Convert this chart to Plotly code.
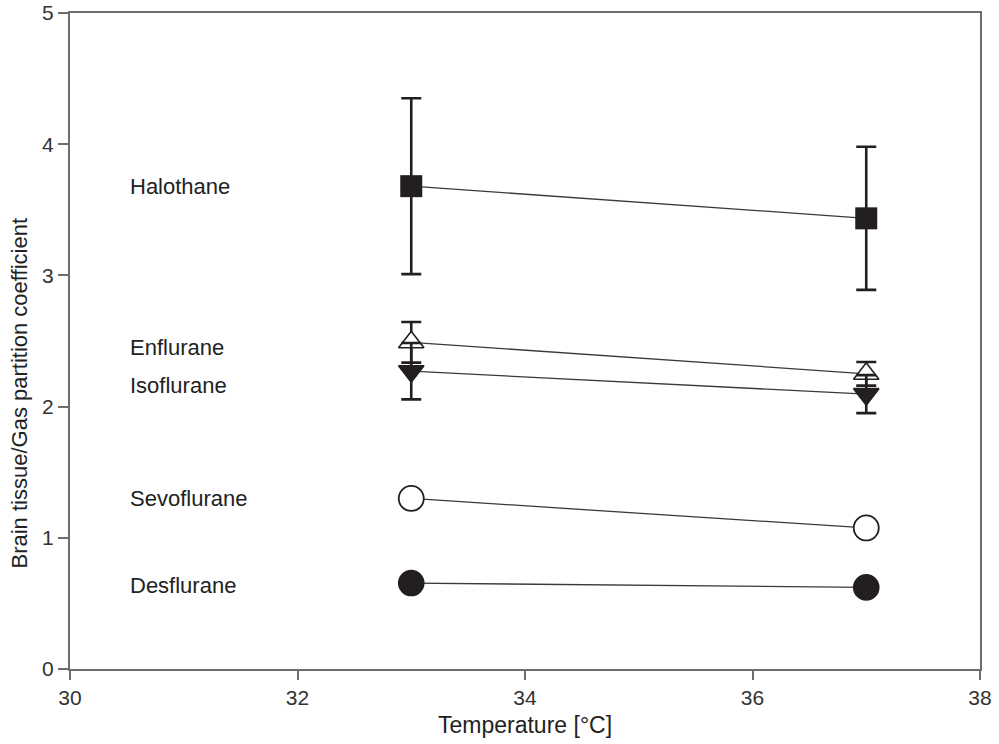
import plotly.graph_objects as go

temps = [33, 37]
names = ["Halothane", "Enflurane", "Isoflurane", "Sevoflurane", "Desflurane"]
halothane = [3.68, 3.435]
halothane_err = [0.67, 0.545]
enflurane = [2.49, 2.25]
enflurane_err = [0.155, 0.09]
isoflurane = [2.27, 2.095]
isoflurane_err = [0.215, 0.145]
sevoflurane = [1.30, 1.075]
sevoflurane_err = [0.05, 0.0]
desflurane = [0.655, 0.622]
desflurane_err = [0.0, 0.0]
label_x = 30.51
label_y = [3.68, 2.45, 2.16, 1.30, 0.64]
x_title = "Temperature [°C]"
y_title = "Brain tissue/Gas partition coefficient"

ink = "#231f20"
series = [
    (halothane, halothane_err, "square", ink, 22, 0),
    (enflurane, enflurane_err, "triangle-up", "white", 22, 1.6),
    (isoflurane, isoflurane_err, "triangle-down", ink, 22, 1.6),
    (sevoflurane, sevoflurane_err, "circle", "white", 25, 1.8),
    (desflurane, desflurane_err, "circle", ink, 25, 1.6),
]

FONT = "Liberation Sans, Arial"
fig = go.Figure()
for vals, err, sym, fill, size, lw in series:
    fig.add_trace(go.Scatter(x=temps, y=vals, mode="lines",
                             line=dict(color="#3a3a3a", width=1.3),
                             showlegend=False, hoverinfo="skip"))
for vals, err, sym, fill, size, lw in series:
    fig.add_trace(go.Scatter(
        x=temps, y=vals, mode="markers",
        marker=dict(symbol=sym, size=size, color=fill,
                    line=dict(color=ink, width=lw)),
        error_y=dict(type="data", array=err, visible=True,
                     color=ink, thickness=2.6, width=10),
        showlegend=False))

for n, yv in zip(names, label_y):
    fig.add_annotation(x=label_x, y=yv, text=n, showarrow=False,
                       xanchor="left", yanchor="middle",
                       font=dict(family=FONT, size=22, color="#222"))

# axis titles as annotations
fig.add_annotation(x=0.5, y=-0.086, xref="paper", yref="paper", text=x_title,
                   showarrow=False, xanchor="center", yanchor="middle",
                   font=dict(family=FONT, size=23, color="#222"))
fig.add_annotation(x=-0.056, y=0.42, xref="paper", yref="paper", text=y_title,
                   textangle=-90, showarrow=False, xanchor="center", yanchor="middle",
                   font=dict(family=FONT, size=22, color="#222"))

axis_common = dict(showline=True, linecolor="#6e6e6e", linewidth=2, mirror=True,
                   ticks="outside", tickcolor="#6e6e6e", tickwidth=1.5,
                   showgrid=False, zeroline=False, automargin=False,
                   tickfont=dict(family=FONT, size=21, color="#333"))
fig.update_xaxes(range=[30, 38], dtick=2, ticklen=9, **axis_common)
fig.update_yaxes(range=[0, 5], dtick=1, ticklen=10, **axis_common)
fig.update_layout(width=999, height=744, margin=dict(l=70, r=19, t=13, b=75),
                  plot_bgcolor="white", paper_bgcolor="white")
fig.write_html("out.html")
